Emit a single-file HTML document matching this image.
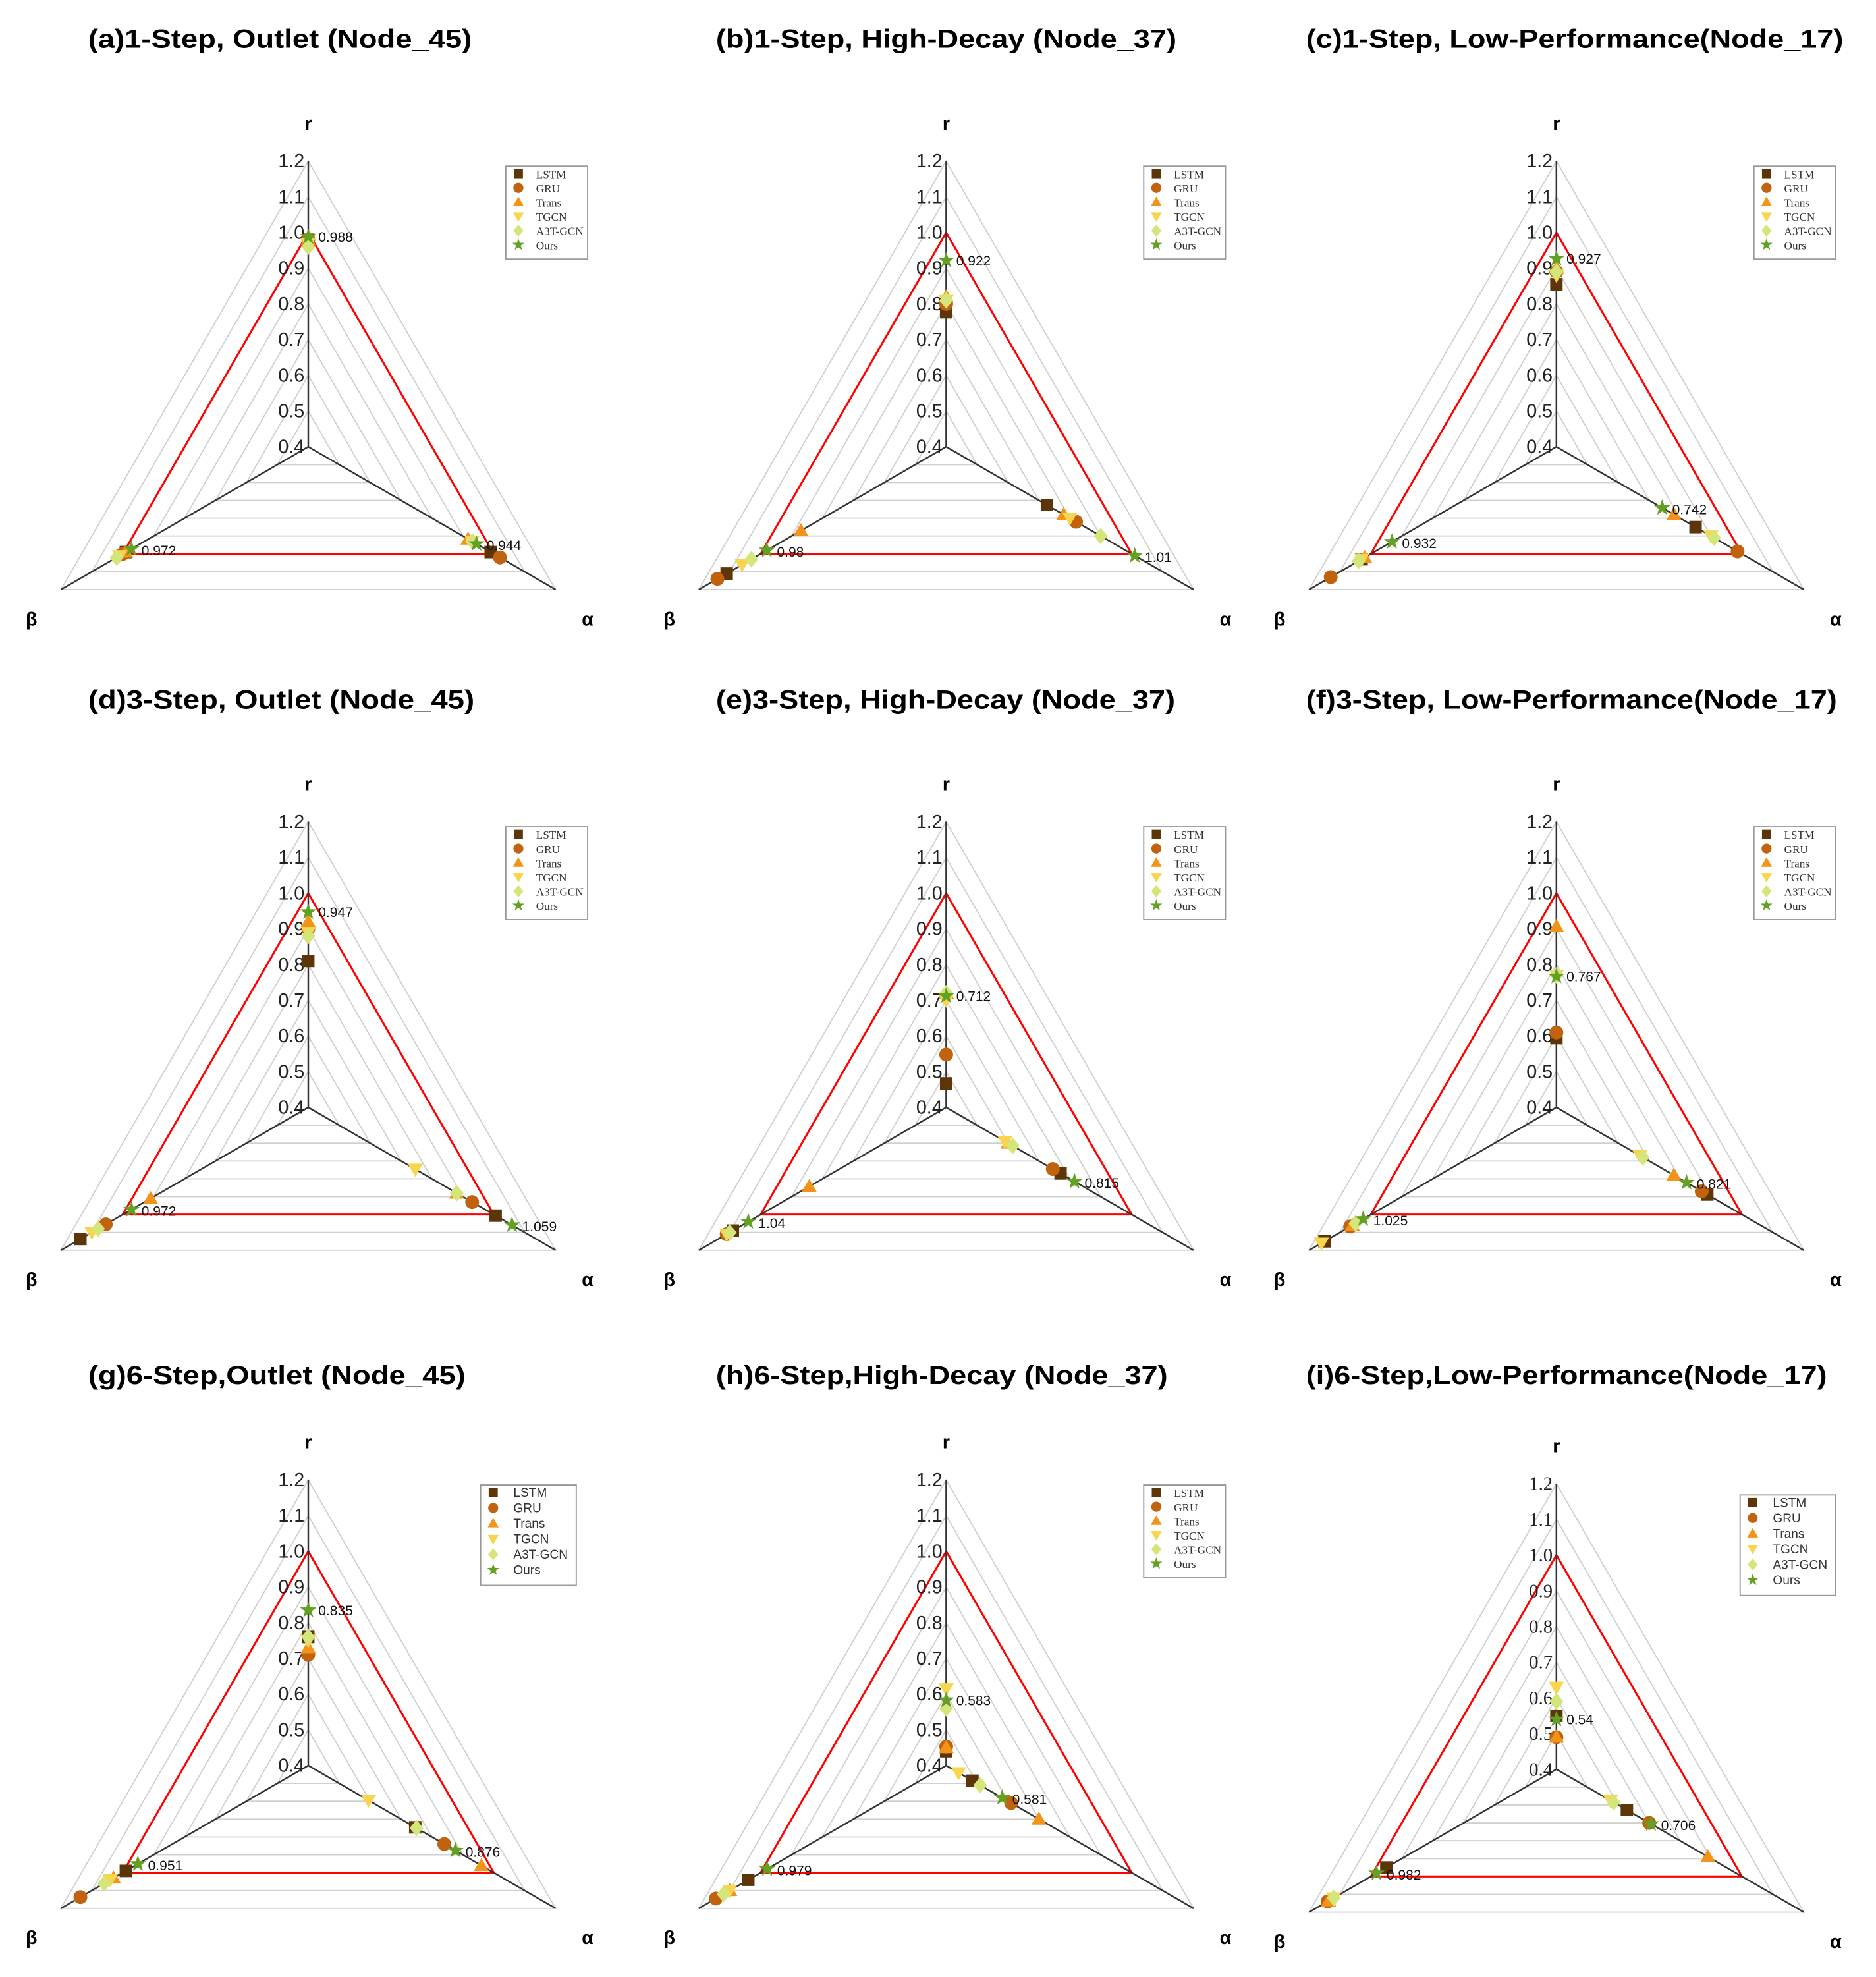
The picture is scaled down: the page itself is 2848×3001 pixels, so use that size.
<!DOCTYPE html>
<html><head><meta charset="utf-8"><style>
html,body{margin:0;padding:0;background:#fff}
svg{display:block}
</style></head><body>
<svg id="fig" width="2848" height="3001" viewBox="0 0 1491 1571" xmlns="http://www.w3.org/2000/svg" font-family="Liberation Sans, sans-serif"></svg>
<script>
const models = ["LSTM","GRU","Trans","TGCN","A3T-GCN","Ours"];
const colors = ["#5c3608","#c0620e","#f39317","#f7d54e","#d4e57a","#62a123"];
const shapes = ["square","circle","tri","dtri","diamond","star"];
const ticks = [0.4,0.5,0.6,0.7,0.8,0.9,1.0,1.1,1.2];
const tickLabels = ["0.4","0.5","0.6","0.7","0.8","0.9","1.0","1.1","1.2"];
const titles = ["(a)1-Step, Outlet (Node_45)","(b)1-Step, High-Decay (Node_37)","(c)1-Step, Low-Performance(Node_17)",
"(d)3-Step, Outlet (Node_45)","(e)3-Step, High-Decay (Node_37)","(f)3-Step, Low-Performance(Node_17)",
"(g)6-Step,Outlet (Node_45)","(h)6-Step,High-Decay (Node_37)","(i)6-Step,Low-Performance(Node_17)"];
const rVals = [
[0.98,0.98,0.98,0.97,0.96,0.988],
[0.777,0.80,0.82,0.81,0.81,0.922],
[0.855,0.89,0.90,0.88,0.89,0.927],
[0.81,0.90,0.92,0.89,0.88,0.947],
[0.467,0.548,0.72,0.70,0.72,0.712],
[0.594,0.61,0.907,0.77,0.77,0.767],
[0.76,0.71,0.73,0.75,0.76,0.835],
[0.44,0.453,0.45,0.615,0.56,0.583],
[0.55,0.49,0.49,0.63,0.59,0.54]];
const aVals = [
[0.99,1.02,0.917,0.93,0.93,0.944],
[0.726,0.82,0.78,0.80,0.90,1.01],
[0.85,0.986,0.78,0.90,0.91,0.742],
[1.006,0.93,0.88,0.746,0.88,1.059],
[0.77,0.745,0.60,0.59,0.615,0.815],
[0.888,0.87,0.78,0.67,0.68,0.821],
[0.746,0.84,0.96,0.595,0.75,0.876],
[0.485,0.61,0.70,0.44,0.51,0.581],
[0.628,0.70,0.89,0.575,0.585,0.706]];
const bVals = [
[0.99,1.0,0.99,1.01,1.02,0.972],
[1.11,1.14,0.87,1.06,1.03,0.98],
[1.03,1.13,1.02,1.03,1.04,0.932],
[1.137,1.055,0.91,1.10,1.08,0.972],
[1.09,1.11,0.843,1.11,1.10,1.04],
[1.15,1.067,1.06,1.16,1.05,1.025],
[0.99,1.137,1.03,1.04,1.06,0.951],
[1.04,1.145,1.10,1.10,1.12,0.979],
[0.95,1.14,1.137,1.12,1.12,0.982]];
const oursLabels = [["0.988","0.944","0.972"],["0.922","1.01","0.98"],["0.927","0.742","0.932"],
["0.947","1.059","0.972"],["0.712","0.815","1.04"],["0.767","0.821","1.025"],
["0.835","0.876","0.951"],["0.583","0.581","0.979"],["0.54","0.706","0.982"]];

const NS="http://www.w3.org/2000/svg";
const svg=document.getElementById('fig');
function mk(tag,attrs,parent){const e=document.createElementNS(NS,tag);for(const k in attrs)e.setAttribute(k,attrs[k]);(parent||svg).appendChild(e);return e;}
const colX=[245,752,1237], rowY=[355,880,1403];
const titleX=[70,569,1038], titleY=[38,563,1100];
const titleW=[305,366,427,307,365,422,300,359,414];
const R=227;
function rad(v){return (v-0.4)/0.8*R;}
const dirs=[[0,-1],[Math.cos(Math.PI/6),Math.sin(Math.PI/6)],[-Math.cos(Math.PI/6),Math.sin(Math.PI/6)]];
function pt(cx,cy,axis,v){const d=rad(v);return [cx+dirs[axis][0]*d, cy+dirs[axis][1]*d];}
function marker(g,shape,x,y,c,s){
  s=s||5.5;
  if(shape==="square") return mk('rect',{x:x-s*0.9,y:y-s*0.9,width:s*1.8,height:s*1.8,fill:c},g);
  if(shape==="circle") return mk('circle',{cx:x,cy:y,r:s,fill:c},g);
  if(shape==="tri") return mk('polygon',{points:`${x},${y-s*1.1} ${x+s*1.1},${y+s*0.8} ${x-s*1.1},${y+s*0.8}`,fill:c},g);
  if(shape==="dtri") return mk('polygon',{points:`${x},${y+s*1.1} ${x+s*1.1},${y-s*0.8} ${x-s*1.1},${y-s*0.8}`,fill:c},g);
  if(shape==="diamond") return mk('polygon',{points:`${x},${y-s*1.2} ${x+s},${y} ${x},${y+s*1.2} ${x-s},${y}`,fill:c},g);
  let p=[];for(let i=0;i<10;i++){const a=-Math.PI/2+i*Math.PI/5;const rr=i%2?s*0.5:s*1.25;p.push((x+rr*Math.cos(a)).toFixed(2)+","+(y+rr*Math.sin(a)).toFixed(2));}
  return mk('polygon',{points:p.join(' '),fill:c},g);
}
for(let p=0;p<9;p++){
  const cx=colX[p%3], cy=rowY[Math.floor(p/3)]+(p===8?3:0);
  const g=mk('g',{});
  
  
  const t=mk('text',{x:titleX[p%3],y:titleY[Math.floor(p/3)],'font-size':21,'font-weight':'bold',textLength:titleW[p],lengthAdjust:'spacingAndGlyphs',fill:'#000'},g);
  t.textContent=titles[p];
  
  
  ticks.forEach((v,i)=>{
    if(i===0) return;
    const a=pt(cx,cy,0,v),b=pt(cx,cy,1,v),c=pt(cx,cy,2,v);
    const tri=mk('polygon',{points:`${a} ${b} ${c}`,fill:'none',stroke:'#d0d0d0','stroke-width':1},g);
    
    
  });
  {const a=pt(cx,cy,0,1),b=pt(cx,cy,1,1),c=pt(cx,cy,2,1);
   const ref=mk('polygon',{points:`${a} ${b} ${c}`,fill:'none',stroke:'#ff0000','stroke-width':1.6},g);
   
   }
  for(let ax=0;ax<3;ax++){const e=pt(cx,cy,ax,1.2);
    const l=mk('line',{x1:cx,y1:cy,x2:e[0],y2:e[1],stroke:'#333','stroke-width':1.3},g);
    
    }
  ticks.forEach((v,i)=>{const y=cy-rad(v);
    const tl=mk('text',{x:cx-3,y:y+5,'font-size':15,'text-anchor':'end',fill:'#222','font-family':p===8?'Liberation Serif, serif':'Liberation Sans, sans-serif'},g);
    tl.textContent=tickLabels[i];
    
    });
  [["r",cx,cy-252],["α",cx+222,cy+142],["β",cx-220,cy+142]].forEach(a=>{
    const an=mk('text',{x:a[1],y:a[2],'font-size':15,'font-weight':'bold','text-anchor':'middle'},g);
    an.textContent=a[0];
    
    });
  const vals=[rVals[p],aVals[p],bVals[p]];
  for(let m=0;m<6;m++){for(let ax=0;ax<3;ax++){
    const q=pt(cx,cy,ax,vals[ax][m]);
    const mm=marker(g,shapes[m],q[0],q[1],colors[m]);
    
    }}
  for(let ax=0;ax<3;ax++){const q=pt(cx,cy,ax,vals[ax][5]);
    const vl=mk('text',{x:q[0]+8,y:q[1]+(ax===0?4:5),'font-size':11,fill:'#111'},g);
    vl.textContent=oursLabels[p][ax];
    
    }
  const sans=(p===6||p===8);
  const lx=cx+(p===6?137:p===8?146:157), ly=cy+(p===8?-218:-223), lw=sans?76:65, rh=sans?12.3:11.3;
  const lg=mk('g',{},g);
  
  
  mk('rect',{x:lx,y:ly,width:lw,height:rh*6+6,fill:'#fff',stroke:'#999','stroke-width':1},lg);
  for(let m=0;m<6;m++){const yy=ly+6+rh*m;
    marker(lg,shapes[m],lx+10,yy,colors[m],4);
    const lt=mk('text',{x:lx+(sans?26:24),y:yy+3.5,'font-size':sans?10:9,fill:'#333','font-family':sans?'Liberation Sans, sans-serif':'Liberation Serif, serif'},lg);
    lt.textContent=models[m];
    
    }
}
</script>
</body></html>
